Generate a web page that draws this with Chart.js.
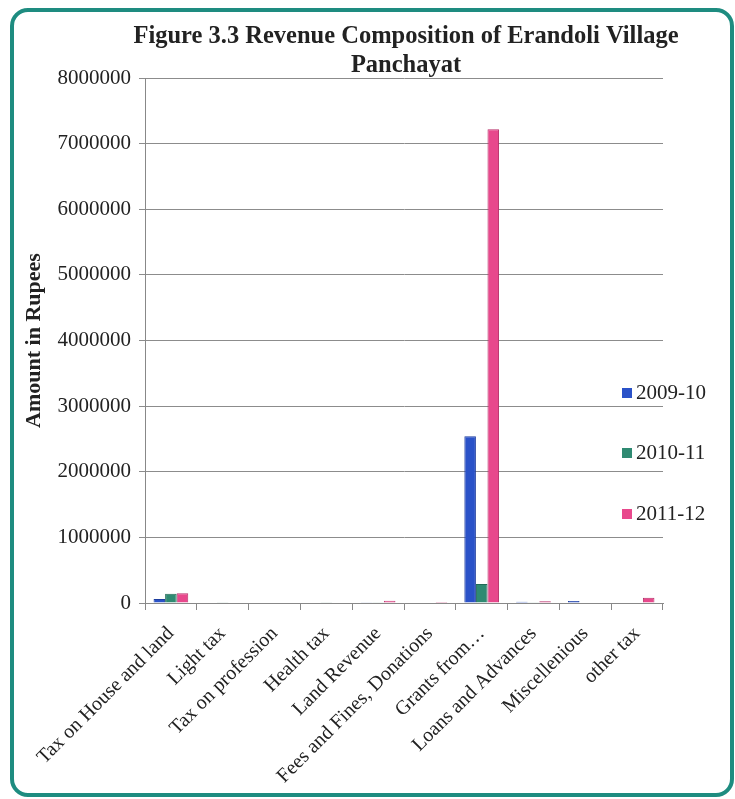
<!DOCTYPE html>
<html>
<head>
<meta charset="utf-8">
<script src="https://cdn.jsdelivr.net/npm/chart.js@4.4.1/dist/chart.umd.min.js"></script>
<style>
    html, body { margin: 0; padding: 0; background: #fff; }
    #wrap { position: relative; width: 735px; height: 799px; overflow: hidden; }
    #frame {
        position: absolute; left: 10px; top: 8px; width: 716px; height: 781px;
        border: 4px solid #1e8c80; border-radius: 18px;
    }
    canvas { position: absolute; left: 0; top: 0; }
</style>
</head>
<body>
<div id="wrap">
    <div id="frame"></div>
    <canvas id="revenueChart" width="735" height="799"></canvas>
</div>
<script>
// ========== 数据 ==========
const categories = [
    'Tax on House and land', 'Light tax', 'Tax on profession', 'Health tax',
    'Land Revenue', 'Fees and Fines, Donations', 'Grants from\u2026',
    'Loans and Advances', 'Miscellenious', 'other tax'
];
const seriesNames = ['2009-10', '2010-11', '2011-12'];
const values2009 = [60000, 0, 0, 0, 10000, 0, 2540000, 20000, 30000, 0];
const values2010 = [142000, 4000, 0, 4000, 10000, 0, 290000, 10000, 0, 0];
const values2011 = [150000, 6000, 0, 9000, 35000, 15000, 7220000, 25000, 0, 80000];
const yTicks = [0, 1000000, 2000000, 3000000, 4000000, 5000000, 6000000, 7000000, 8000000];
const titleLines = ['Figure 3.3 Revenue Composition of Erandoli Village', 'Panchayat'];

const fillColors = ['#2a52c8', '#2f8a72', '#e8488c'];
const edgeColors = ['#1d3d9e', '#206a56', '#b8306a'];
const serif = "'Liberation Serif', 'DejaVu Serif', serif";

// 标题（比绘图区宽，自己画，避免被压缩）
const wideTitle = {
    id: 'wideTitle',
    afterDraw(chart) {
        const ctx = chart.ctx;
        ctx.save();
        ctx.font = 'bold 24.5px ' + serif;
        ctx.fillStyle = '#222';
        ctx.textAlign = 'center';
        ctx.textBaseline = 'alphabetic';
        titleLines.forEach((line, i) => ctx.fillText(line, 406, 43 + i * 29));
        ctx.restore();
    }
};

// 图例（画在绘图区内右侧）
const sideLegend = {
    id: 'sideLegend',
    afterDraw(chart) {
        const ctx = chart.ctx;
        const rowY = [393, 453, 514];
        ctx.save();
        ctx.font = '21px ' + serif;
        ctx.textBaseline = 'middle';
        chart.data.datasets.forEach((ds, i) => {
            ctx.fillStyle = ds.backgroundColor;
            ctx.fillRect(622, rowY[i] - 5, 10, 10);
            ctx.fillStyle = '#222';
            ctx.fillText(ds.label, 636, rowY[i]);
        });
        ctx.restore();
    }
};

const values = [values2009, values2010, values2011];

new Chart(document.getElementById('revenueChart').getContext('2d'), {
    type: 'bar',
    data: {
        labels: categories,
        datasets: seriesNames.map((name, i) => ({
            label: name,
            data: values[i],
            backgroundColor: fillColors[i],
            borderColor: edgeColors[i],
            borderWidth: 1,
            categoryPercentage: 0.67,
            barPercentage: 1.0
        }))
    },
    options: {
        responsive: false,
        animation: false,
        devicePixelRatio: 1,
        layout: { padding: { left: 12, right: 72, top: 78, bottom: 0 } },
        plugins: {
            legend: { display: false },
            tooltip: { enabled: false },
            title: { display: false }
        },
        scales: {
            x: {
                grid: { offset: true, drawOnChartArea: false, color: '#888', tickLength: 7 },
                border: { color: '#888' },
                ticks: {
                    color: '#222',
                    font: { family: serif, size: 20 },
                    minRotation: 45,
                    maxRotation: 45,
                    autoSkip: false,
                    padding: 12
                },
                afterFit(scale) { scale.height = 196; }
            },
            y: {
                min: 0,
                max: 8000000,
                afterBuildTicks(scale) { scale.ticks = yTicks.map(v => ({ value: v })); },
                grid: { color: '#8c8c8c', tickLength: 6 },
                border: { color: '#888' },
                ticks: {
                    color: '#222',
                    font: { family: serif, size: 21 },
                    padding: 8,
                    callback: v => String(v)
                },
                title: {
                    display: true,
                    text: 'Amount in Rupees',
                    color: '#222',
                    font: { family: serif, size: 22, weight: 'bold', lineHeight: 1.2 },
                    padding: { top: 9, bottom: 0 }
                },
                afterFit(scale) { scale.width = 133; }
            }
        }
    },
    plugins: [wideTitle, sideLegend]
});
</script>
</body>
</html>
